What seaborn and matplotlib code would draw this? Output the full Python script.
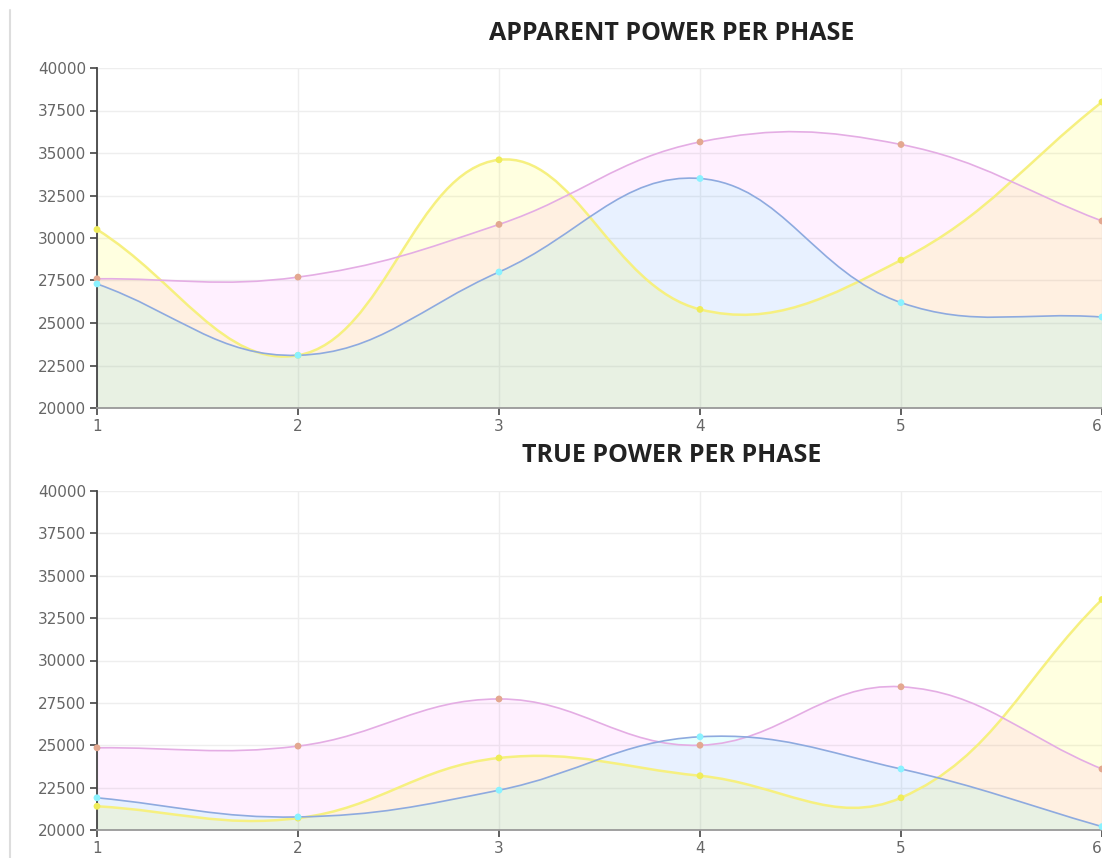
import numpy as np
import matplotlib.pyplot as plt
import seaborn as sns
from matplotlib.path import Path
from matplotlib.patches import PathPatch
from matplotlib.lines import Line2D

# --------------------------
# Data
# --------------------------
phases = [1, 2, 3, 4, 5, 6]

apparent_yellow = [30500, 23100, 34600, 25800, 28700, 38000]
apparent_pink = [27600, 27700, 30800, 35650, 35500, 31000]
apparent_blue = [27300, 23100, 28000, 33500, 26200, 25350]

true_yellow = [21400, 20700, 24250, 23200, 21900, 33600]
true_pink = [24850, 24950, 27730, 25000, 28450, 23600]
true_blue = [21900, 20770, 22350, 25500, 23600, 20200]

titles = ["APPARENT POWER PER PHASE", "TRUE POWER PER PHASE"]
y_ticks = list(range(20000, 40001, 2500))

# style per series: line colour, fill rgba, point colour, line width
series_style = [
    ("#f6f080", (1.0, 1.0, 0.0, 0.12), "#efec5a", 1.8),
    ("#e4ade4", (1.0, 0.0, 1.0, 0.06), "#e3a890", 1.2),
    ("#8eaadf", (0.0, 1.0, 1.0, 0.09), "#8af2ff", 1.2),
]

# pixel scale used for the spline (chart.js style, tension 0.4)
PX_X = 201.0
PX_Y = 340.0 / 20000.0
TENSION = 0.4


def spline_path(xs, ys, base=None):
    pts = np.column_stack([np.asarray(xs, float) * PX_X, np.asarray(ys, float) * PX_Y])
    n = len(pts)
    cp_prev = np.zeros_like(pts)
    cp_next = np.zeros_like(pts)
    for i in range(n):
        prev = pts[i - 1] if i > 0 else pts[i]
        cur = pts[i]
        nxt = pts[i + 1] if i < n - 1 else pts[i]
        d01 = np.hypot(*(cur - prev))
        d12 = np.hypot(*(nxt - cur))
        tot = d01 + d12
        s01 = d01 / tot if tot else 0
        s12 = d12 / tot if tot else 0
        cp_prev[i] = cur - TENSION * s01 * (nxt - prev)
        cp_next[i] = cur + TENSION * s12 * (nxt - prev)
    verts = [pts[0]]
    codes = [Path.MOVETO]
    for i in range(n - 1):
        verts += [cp_next[i], cp_prev[i + 1], pts[i + 1]]
        codes += [Path.CURVE4] * 3
    verts = np.array(verts)
    verts[:, 0] /= PX_X
    verts[:, 1] /= PX_Y
    verts = list(verts)
    if base is not None:
        verts += [(xs[-1], base), (xs[0], base), (xs[0], base)]
        codes += [Path.LINETO, Path.LINETO, Path.CLOSEPOLY]
    return Path(verts, codes)


# --------------------------
# Plot
# --------------------------
sns.set_theme(style="white")
plt.rcParams["font.family"] = ["DejaVu Sans"]

fig = plt.figure(figsize=(11.02, 8.58), dpi=100)
ax_top = fig.add_axes([97 / 1102, 1 - 408 / 858, 1 - 97 / 1102, 340 / 858])
ax_bot = fig.add_axes([97 / 1102, 1 - 830 / 858, 1 - 97 / 1102, 339 / 858])

panels = [
    (ax_top, [apparent_yellow, apparent_pink, apparent_blue]),
    (ax_bot, [true_yellow, true_pink, true_blue]),
]

for ax, data in panels:
    ax.set_xlim(1, 6)
    ax.set_ylim(20000, 40000)
    ax.set_xticks(phases)
    ax.set_yticks(y_ticks)
    ax.grid(True, color="#eeeeee", linewidth=1)
    ax.set_axisbelow(True)

    for values, (lc, fc, pc, lw) in zip(data, series_style):
        ax.add_patch(PathPatch(spline_path(phases, values, base=20000),
                               facecolor=fc, edgecolor="none", zorder=2))
        ax.add_patch(PathPatch(spline_path(phases, values), facecolor="none",
                               edgecolor=lc, linewidth=lw, zorder=3))
        sns.scatterplot(x=phases, y=values, ax=ax, color=pc, s=24,
                        edgecolor="none", zorder=4, clip_on=False)

    for side in ["top", "right"]:
        ax.spines[side].set_visible(False)
    ax.spines["left"].set_color("#444444")
    ax.spines["left"].set_linewidth(1.3)
    ax.spines["bottom"].set_color("#999999")
    ax.spines["bottom"].set_linewidth(1.3)
    ax.tick_params(axis="both", which="both", direction="out", length=5,
                   width=1.2, color="#444444", labelcolor="#666666",
                   labelsize=11, pad=3, left=True, bottom=True)
    # keep the last phase label inside the figure
    ax.get_xticklabels()[-1].set_horizontalalignment("right")
    ax.set_xlabel("")
    ax.set_ylabel("")

fig.text(672 / 1102, 1 - 33 / 858, titles[0], ha="center", va="center",
         fontsize=18, fontweight="bold", color="#222222", family="Open Sans")
fig.text(672 / 1102, 1 - 456 / 858, titles[1], ha="center", va="center",
         fontsize=18, fontweight="bold", color="#222222", family="Open Sans")

# page border at the left
fig.add_artist(Line2D([10 / 1102, 10 / 1102], [0, 1 - 10 / 858],
                      transform=fig.transFigure, color="#dddddd", linewidth=1.5))

fig.savefig("out.png", dpi=100)
